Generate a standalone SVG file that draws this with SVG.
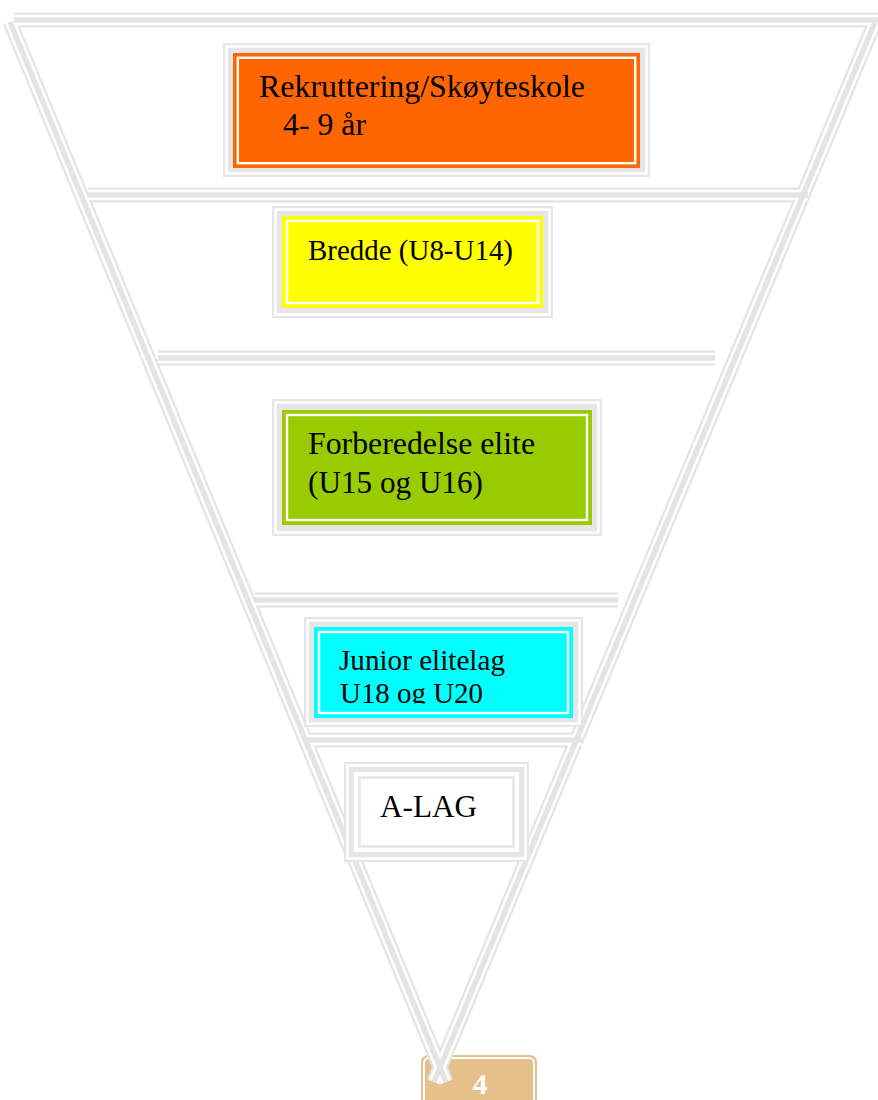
<svg xmlns="http://www.w3.org/2000/svg" xmlns:xlink="http://www.w3.org/1999/xlink" width="878" height="1100" viewBox="0 0 878 1100">
<style>
.frame{fill:#e6e6e6}
.gap{fill:none;stroke:#fff;stroke-width:2.5}
.inner{fill:none;stroke:#fff;stroke-width:2.4}
.t{font-family:"Liberation Serif","Times New Roman",serif;font-size:32px;fill:#000}
.s{font-size:30px}
.l1{fill:none;stroke:#e4e4e4;stroke-width:15}
.l2{fill:none;stroke:#fff;stroke-width:10.5}
.l3{fill:none;stroke:#e4e4e4;stroke-width:5.5}
</style>
<defs>
<g id="lines">
<path d="M14 20H878"/>
<path d="M88 195H808"/>
<path d="M158 358H715"/>
<path d="M255 600H618"/>
<path d="M305 740H582"/>
<path d="M10 22L446 1082"/>
<path d="M875 22L434 1082"/>
</g>
<clipPath id="cjun"><rect x="314" y="627" width="259" height="76.5"/></clipPath>
</defs>
<rect width="878" height="1100" fill="#fff"/>
<g id="page">
<rect x="421" y="1055" width="116" height="60" rx="7" fill="#e5c08a"/>
<rect x="424" y="1058" width="110" height="54" rx="5" fill="none" stroke="#fff" stroke-width="2"/>
<text x="480" y="1094" text-anchor="middle" font-family="Liberation Serif,serif" font-weight="bold" font-size="30" fill="#fff">4</text>
</g>
<g id="connectors">
<use xlink:href="#lines" class="l1"/>
<use xlink:href="#lines" class="l2"/>
<use xlink:href="#lines" class="l3"/>
</g>
<g id="rekruttering">
<rect class="frame" x="223" y="43" width="427" height="134"/>
<rect class="gap" x="226.5" y="46.5" width="420" height="127"/>
<rect x="233" y="53" width="407" height="115" fill="#ff6600"/>
<rect class="inner" x="237.8" y="57.8" width="397.4" height="105.4"/>
<text class="t" x="259" y="97" textLength="326" lengthAdjust="spacingAndGlyphs">Rekruttering/Skøyteskole</text>
<text class="t" x="283" y="135" textLength="83" lengthAdjust="spacingAndGlyphs">4- 9 år</text>
</g>
<g id="bredde">
<rect class="frame" x="272" y="206" width="281" height="112"/>
<rect class="gap" x="275.5" y="209.5" width="274" height="105"/>
<rect x="282" y="216" width="261" height="92" fill="#ffff00"/>
<rect class="inner" x="287" y="221" width="251" height="82"/>
<text class="t s" x="308" y="260" textLength="205" lengthAdjust="spacingAndGlyphs">Bredde (U8-U14)</text>
</g>
<g id="forberedelse">
<rect class="frame" x="272" y="399" width="330" height="137"/>
<rect class="gap" x="275.5" y="402.5" width="323" height="130"/>
<rect x="282" y="410" width="310" height="115" fill="#99cc00"/>
<rect class="inner" x="287" y="415" width="300" height="105"/>
<text class="t" x="308" y="454" textLength="227" lengthAdjust="spacingAndGlyphs">Forberedelse elite</text>
<text class="t" x="308" y="493" textLength="175" lengthAdjust="spacingAndGlyphs">(U15 og U16)</text>
</g>
<g id="junior">
<rect class="frame" x="304" y="617" width="279" height="110"/>
<rect class="gap" x="307.5" y="620.5" width="272" height="103"/>
<rect x="314" y="627" width="259" height="91" fill="#00ffff"/>
<rect class="inner" x="319" y="632" width="249" height="81"/>
<g clip-path="url(#cjun)">
<text class="t s" x="339" y="670" textLength="166" lengthAdjust="spacingAndGlyphs">Junior elitelag</text>
<text class="t s" x="340" y="703" textLength="143" lengthAdjust="spacingAndGlyphs">U18 og U20</text>
</g>
</g>
<g id="alag">
<rect class="frame" x="344" y="762" width="185" height="100"/>
<rect class="gap" x="347.5" y="765.5" width="178" height="93"/>
<rect x="354" y="772" width="165" height="80" fill="#fff"/>
<rect x="359.5" y="777.5" width="154" height="69" fill="none" stroke="#e6e6e6" stroke-width="2.5"/>
<text class="t" x="380" y="817" textLength="97" lengthAdjust="spacingAndGlyphs">A-LAG</text>
</g>
</svg>
